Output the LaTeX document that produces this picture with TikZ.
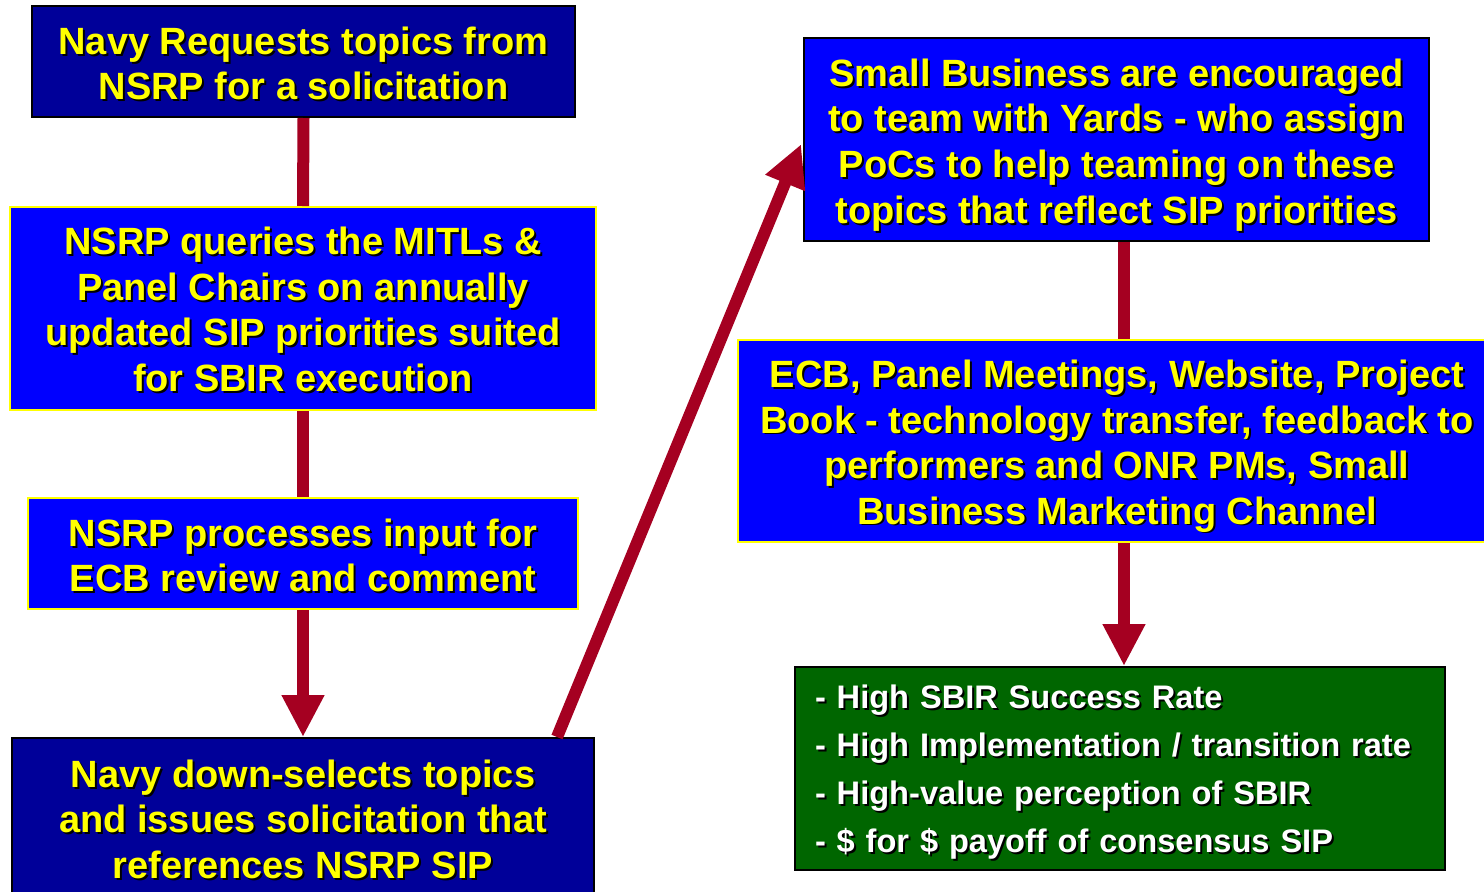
\documentclass[tikz,border=0pt]{standalone}
\usepackage{fontspec}
\setmainfont{Liberation Sans}
\usetikzlibrary{arrows.meta,calc}
\definecolor{navy}{RGB}{0,0,153}
\definecolor{brightblue}{RGB}{0,0,255}
\definecolor{ylw}{RGB}{255,255,0}
\definecolor{grn}{RGB}{0,102,0}
\definecolor{darkred}{RGB}{165,0,33}
\newlength{\tdrop}
\newcommand{\shd}[1]{\raisebox{-\tdrop}[\height][\depth]{\makebox[0pt][l]{\kern2pt\raisebox{-2pt}{\color{black}#1}}#1}}
\tikzset{
  drop/.style={execute at begin node={\setlength{\tdrop}{#1}}},
  navybox/.style={draw=black, line width=2pt, fill=navy, text=ylw, inner sep=0pt, align=center,
    font=\fontsize{38}{45.5}\selectfont\bfseries},
  bluebox/.style={draw=ylw, line width=2pt, fill=brightblue, text=ylw, inner sep=0pt, align=center,
    font=\fontsize{38}{45.5}\selectfont\bfseries},
  blueblk/.style={draw=black, line width=2pt, fill=brightblue, text=ylw, inner sep=0pt, align=center,
    font=\fontsize{38}{45.8}\selectfont\bfseries},
  greenbox/.style={draw=black, line width=2pt, fill=grn, text=white, inner xsep=20pt, inner ysep=0pt,
    align=left, text width=610pt, font=\fontsize{32.6}{48}\selectfont\bfseries},
  link/.style={draw=darkred, line width=12pt},
  arrowlink/.style={draw=darkred, line width=12pt, -{Triangle[width=40pt,length=42pt]}},
}
\begin{document}
\begin{tikzpicture}[x=1pt,y=-1pt]
\useasboundingbox[fill=white] (0,0) rectangle (1484,892);

\node[navybox, drop=3pt, minimum width=543pt, minimum height=111pt] (b1) at (303.5,61.5)
  {\shd{Navy Requests topics from}\\\shd{NSRP for a solicitation}};
\node[bluebox, drop=2pt, minimum width=586pt, minimum height=203pt] (b2) at (303,308.5)
  {\shd{NSRP queries the MITLs \&}\\\shd{Panel Chairs on annually}\\\shd{updated SIP priorities suited}\\\shd{for SBIR execution}};
\node[bluebox, drop=3pt, minimum width=550pt, minimum height=111pt] (b3) at (303,553.5)
  {\shd{NSRP processes input for}\\\shd{ECB review and comment}};
\node[navybox, drop=0pt, minimum width=582pt, minimum height=164pt] (b4) at (303,820)
  {\shd{Navy down-selects topics}\\\shd{and issues solicitation that}\\\shd{references NSRP SIP}};

\node[blueblk, drop=6.5pt, minimum width=625pt, minimum height=203pt] (b5) at (1116.5,139.5)
  {\shd{Small Business are encouraged}\\\shd{to team with Yards - who assign}\\\shd{PoCs to help teaming on these}\\\shd{topics that reflect SIP priorities}};
\node[bluebox, drop=6pt, minimum width=758pt, minimum height=202pt] (b6) at (1117,441)
  {\shd{ECB, Panel Meetings, Website, Project}\\\shd{Book - technology transfer, feedback to}\\\shd{performers and ONR PMs, Small}\\\shd{Business Marketing Channel}};
\node[greenbox, drop=4.5pt, minimum height=203pt] (b7) at (1120,768.5)
  {\shd{- High SBIR Success Rate}\\\shd{- High Implementation / transition rate}\\\shd{- High-value perception of SBIR}\\\shd{- \$ for \$ payoff of consensus SIP}};

\coordinate (d0) at ($(b4.north west)!0.935!(b4.north east)$);

\draw[link] (b1.south) -- (b2.north);
\draw[link] (b2.south) -- (b3.north);
\draw[arrowlink] (b3.south) -- (b4.north);
\draw[arrowlink, shorten >=5pt] (d0) -- (b5.west);
\draw[link] (b5.south -| 1124,0) -- (b6.north -| 1124,0);
\draw[arrowlink] (b6.south -| 1124,0) -- (b7.north -| 1124,0);
\end{tikzpicture}
\end{document}
